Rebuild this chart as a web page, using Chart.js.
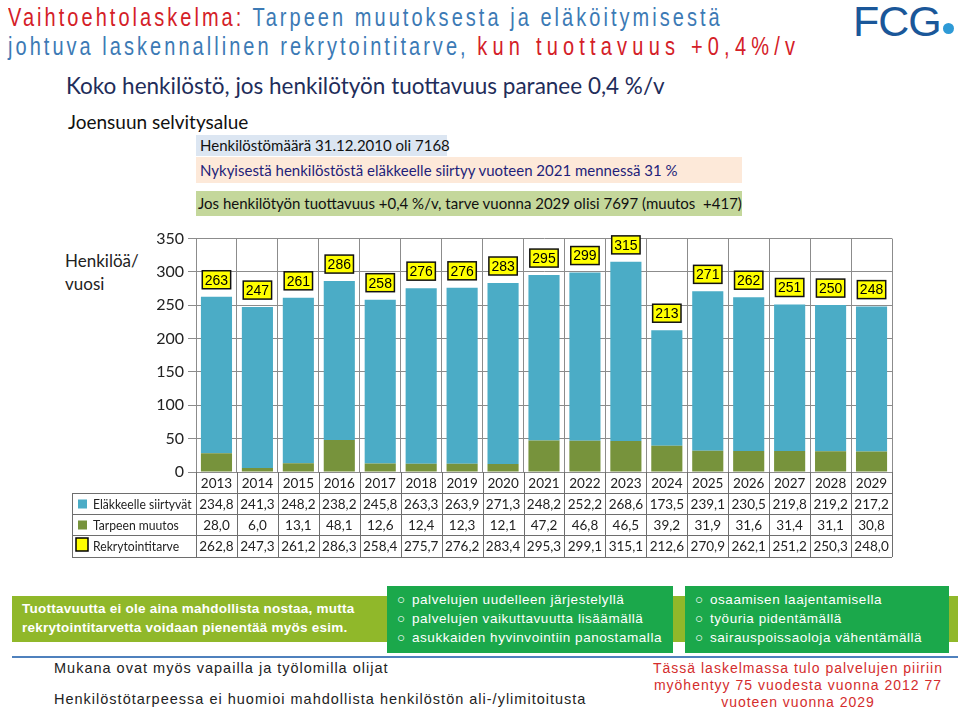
<!DOCTYPE html>
<html>
<head>
<meta charset="utf-8">
<script src="https://cdn.jsdelivr.net/npm/chart.js@4"></script>
<style>
  body { margin: 0; width: 960px; height: 711px; background: #fff; position: relative; overflow: hidden; font-family: "Liberation Sans", Arial, sans-serif; }
  .abs { position: absolute; white-space: nowrap; }
  #t1, #t2 { left: 8px; font-size: 25px; letter-spacing: 3.8px; color: #3c7ab5; transform: scaleX(0.8); transform-origin: left top; }
  #t1 { top: 3px; }
  #t2 { top: 32px; }
  .red { color: #d42027; }
  #t2 .red { letter-spacing: 6.5px; }
  #logo { left: 853px; top: -3px; font-size: 43px; color: #1a5799; font-family: "Liberation Sans", sans-serif; letter-spacing: -1px; }
  #dot { left: 943px; top: 23px; width: 11px; height: 11px; border-radius: 50%; background: #2e9ad6; }
  #koko { left: 66px; top: 72px; font-family: Lato, sans-serif; font-size: 22.5px; color: #1f2d5a; }
  #joe { left: 68px; top: 110px; font-family: Lato, sans-serif; font-size: 19px; color: #111; }
  .info { font-family: Lato, sans-serif; font-size: 15px; padding-left: 4px; box-sizing: border-box; }
  #i1 { left: 196px; top: 135px; width: 251px; height: 21px; line-height: 21px; background: #dce6f2; color: #111; }
  #i2 { left: 196px; top: 157px; width: 546px; height: 26px; line-height: 26px; background: #fde9d9; color: #1f1f7a; }
  #i3 { left: 196px; top: 191px; width: 546px; height: 25px; line-height: 25px; background: #c4d79b; color: #111; padding-left: 2px; }
  #ylab { left: 65px; top: 249px; font-family: Lato, sans-serif; font-size: 17px; line-height: 23px; color: #222; }
  #chartBox { position: absolute; left: 0; top: 225px; width: 960px; height: 340px; }
  #band { left: 12px; top: 596px; width: 946px; height: 46px; background: #90b82a; }
  #bandTxt { left: 22px; top: 599px; font-size: 13.5px; font-weight: bold; color: #fff; line-height: 19px; letter-spacing: 0.25px; }
  .gbox { top: 586px; height: 67px; background: #1ba84b; color: #fff; font-size: 13.5px; line-height: 19px; padding: 4px 0 0 10px; box-sizing: border-box; letter-spacing: 0.55px; }
  #g1 { left: 387px; width: 286px; }
  #g2 { left: 685px; width: 264px; }
  .b { display: inline-block; width: 15px; letter-spacing: 0; }
  #rule { left: 12px; top: 656px; width: 946px; height: 2px; background: #4f81bd; }
  .note { left: 54px; font-size: 14.5px; letter-spacing: 1px; color: #222; }
  #n1 { top: 660px; }
  #n2 { top: 691px; }
  #red { left: 640px; top: 660px; width: 316px; text-align: center; font-size: 14px; line-height: 17px; letter-spacing: 1px; color: #d42d2d; }
</style>
</head>
<body>
<div id="t1" class="abs"><span class="red">Vaihtoehtolaskelma:</span> Tarpeen muutoksesta ja eläköitymisestä</div>
<div id="t2" class="abs">johtuva laskennallinen rekrytointitarve, <span class="red">kun tuottavuus +0,4%/v</span></div>
<div id="logo" class="abs">FCG</div>
<div id="dot" class="abs"></div>
<div id="koko" class="abs">Koko henkilöstö, jos henkilötyön tuottavuus paranee 0,4 %/v</div>
<div id="joe" class="abs">Joensuun selvitysalue</div>
<div id="i1" class="abs info">Henkilöstömäärä 31.12.2010 oli 7168</div>
<div id="i2" class="abs info">Nykyisestä henkilöstöstä eläkkeelle siirtyy vuoteen 2021 mennessä 31 %</div>
<div id="i3" class="abs info">Jos henkilötyön tuottavuus +0,4 %/v, tarve vuonna 2029 olisi 7697 (muutos&nbsp; +417)</div>
<div id="ylab" class="abs">Henkilöä/<br>vuosi</div>

<div id="chartBox"><canvas id="chart" width="960" height="340"></canvas></div>

<div id="band" class="abs"></div>
<div id="bandTxt" class="abs">Tuottavuutta ei ole aina mahdollista nostaa, mutta<br>rekrytointitarvetta voidaan pienentää myös esim.</div>
<div id="g1" class="abs gbox"><span class="b">○</span>palvelujen uudelleen järjestelyllä<br><span class="b">○</span>palvelujen vaikuttavuutta lisäämällä<br><span class="b">○</span>asukkaiden hyvinvointiin panostamalla</div>
<div id="g2" class="abs gbox"><span class="b">○</span>osaamisen laajentamisella<br><span class="b">○</span>työuria pidentämällä<br><span class="b">○</span>sairauspoissaoloja vähentämällä</div>
<div id="rule" class="abs"></div>
<div id="n1" class="abs note">Mukana ovat myös vapailla ja työlomilla olijat</div>
<div id="n2" class="abs note">Henkilöstötarpeessa ei huomioi mahdollista henkilöstön ali-/ylimitoitusta</div>
<div id="red" class="abs">Tässä laskelmassa tulo palvelujen piiriin<br>myöhentyy 75 vuodesta vuonna 2012 77<br>vuoteen vuonna 2029</div>

<script>
const years = ['2013', '2014', '2015', '2016', '2017', '2018', '2019', '2020', '2021',
               '2022', '2023', '2024', '2025', '2026', '2027', '2028', '2029'];
const elakkeelle = [234.8, 241.3, 248.2, 238.2, 245.8, 263.3, 263.9, 271.3, 248.2,
                    252.2, 268.6, 173.5, 239.1, 230.5, 219.8, 219.2, 217.2];
const muutos = [28.0, 6.0, 13.1, 48.1, 12.6, 12.4, 12.3, 12.1, 47.2,
                46.8, 46.5, 39.2, 31.9, 31.6, 31.4, 31.1, 30.8];
const tarve = [262.8, 247.3, 261.2, 286.3, 258.4, 275.7, 276.2, 283.4, 295.3,
               299.1, 315.1, 212.6, 270.9, 262.1, 251.2, 250.3, 248.0];
const yMin = 0, yMax = 350, yStep = 50;

const blue = '#4bacc6';
const green = '#77933c';
const gridGrey = '#8c8c8c';

const fmt = v => v.toFixed(1).replace('.', ',');

// yellow value boxes above each bar
const labelBoxes = {
    id: 'labelBoxes',
    afterDatasetsDraw(chart) {
        const ctx = chart.ctx;
        const x = chart.scales.x, y = chart.scales.y;
        ctx.save();
        ctx.font = '14px "Liberation Sans", Arial, sans-serif';
        ctx.textAlign = 'center';
        ctx.textBaseline = 'middle';
        tarve.forEach((v, i) => {
            const txt = String(Math.round(v));
            const cx = x.getPixelForValue(i);
            const bottom = y.getPixelForValue(v) - 8;
            const w = ctx.measureText(txt).width + 5, h = 18;
            ctx.fillStyle = '#ffff00';
            ctx.fillRect(cx - w / 2, bottom - h, w, h);
            ctx.strokeStyle = '#111';
            ctx.lineWidth = 1.5;
            ctx.strokeRect(cx - w / 2, bottom - h, w, h);
            ctx.fillStyle = '#000';
            ctx.fillText(txt, cx, bottom - h / 2 + 1);
        });
        ctx.restore();
    }
};

// data table under the plot
const dataTable = {
    id: 'dataTable',
    afterDraw(chart) {
        const ctx = chart.ctx;
        const x = chart.scales.x;
        const area = chart.chartArea;
        const colW = (area.right - area.left) / years.length;
        const top = area.bottom;
        const rows = [top, top + 21, top + 42, top + 63, top + 85];
        const legendLeft = 72;
        ctx.save();
        ctx.strokeStyle = '#6e6e6e';
        ctx.lineWidth = 1;
        for (let i = 0; i <= years.length; i++) {
            const lx = Math.round(area.left + i * colW) + 0.5;
            ctx.beginPath();
            ctx.moveTo(lx, top);
            ctx.lineTo(lx, rows[4]);
            ctx.stroke();
        }
        ctx.beginPath();
        ctx.moveTo(legendLeft + 0.5, rows[1]);
        ctx.lineTo(legendLeft + 0.5, rows[4]);
        ctx.stroke();
        for (let r = 1; r <= 4; r++) {
            ctx.beginPath();
            ctx.moveTo(legendLeft, rows[r] + 0.5);
            ctx.lineTo(area.right, rows[r] + 0.5);
            ctx.stroke();
        }
        ctx.font = '13.5px Lato, sans-serif';
        ctx.textAlign = 'center';
        ctx.textBaseline = 'middle';
        ctx.fillStyle = '#222';
        const series = [elakkeelle, muutos, tarve];
        years.forEach((yr, i) => {
            const cx = x.getPixelForValue(i);
            ctx.fillText(yr, cx, (rows[0] + rows[1]) / 2 + 1);
            series.forEach((s, r) => {
                ctx.fillText(fmt(s[i]), cx, (rows[r + 1] + rows[r + 2]) / 2 + 1);
            });
        });
        // legend column (text squeezed a little, like Calibri)
        const names = ['Eläkkeelle siirtyvät', 'Tarpeen muutos', 'Rekrytointitarve'];
        const colors = [blue, green, '#ffff00'];
        names.forEach((n, r) => {
            const cy = (rows[r + 1] + rows[r + 2]) / 2;
            ctx.fillStyle = colors[r];
            if (r < 2) {
                ctx.fillRect(78, cy - 4, 9, 9);
            } else {
                ctx.fillRect(76, cy - 8, 12, 13);
                ctx.strokeStyle = '#000';
                ctx.lineWidth = 1.5;
                ctx.strokeRect(76, cy - 8, 12, 13);
            }
            ctx.save();
            ctx.translate(93, cy + 1);
            ctx.scale(0.9, 1);
            ctx.textAlign = 'left';
            ctx.font = '13.5px Lato, sans-serif';
            ctx.fillStyle = '#222';
            ctx.fillText(n, 0, 0);
            ctx.restore();
        });
        ctx.restore();
    }
};

new Chart(document.getElementById('chart'), {
    type: 'bar',
    data: {
        labels: years,
        datasets: [
            { label: 'Tarpeen muutos', data: muutos, backgroundColor: green,
              barPercentage: 0.76, categoryPercentage: 1 },
            { label: 'Eläkkeelle siirtyvät', data: elakkeelle, backgroundColor: blue,
              barPercentage: 0.76, categoryPercentage: 1 }
        ]
    },
    options: {
        responsive: false,
        animation: false,
        devicePixelRatio: 1,
        layout: { padding: { left: 0, top: 12, right: 68, bottom: 93 } },
        plugins: { legend: { display: false }, tooltip: { enabled: false } },
        scales: {
            x: {
                stacked: true,
                ticks: { display: false },
                grid: { color: gridGrey, drawTicks: false, offset: true },
                border: { color: gridGrey },
                afterFit(scale) { scale.height = 0; }
            },
            y: {
                stacked: true,
                min: yMin,
                max: yMax,
                ticks: { stepSize: yStep, color: '#222', padding: 4,
                         font: { family: 'Lato, sans-serif', size: 16 } },
                grid: { color: gridGrey, tickLength: 8 },
                border: { color: gridGrey },
                afterFit(scale) { scale.width = 196; }
            }
        }
    },
    plugins: [labelBoxes, dataTable]
});
</script>
</body>
</html>
